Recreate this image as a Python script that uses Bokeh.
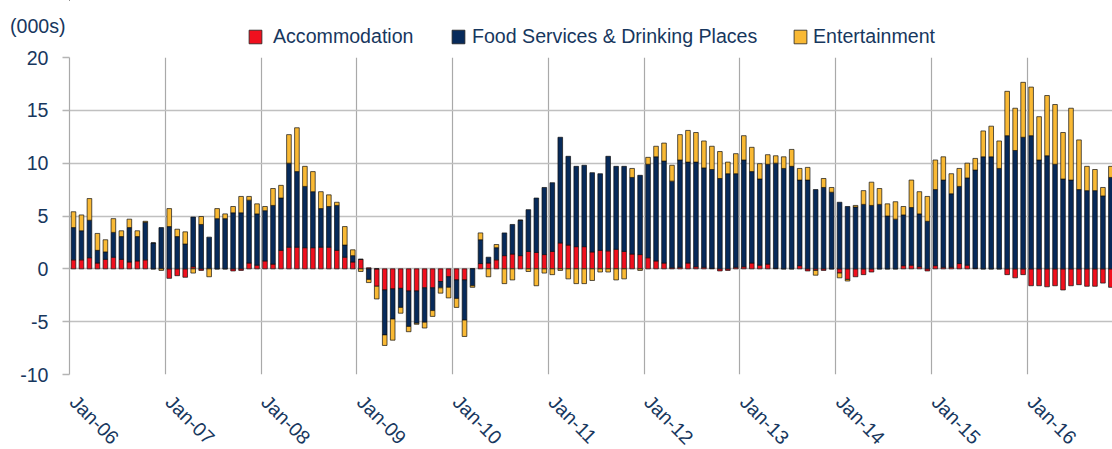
import numpy as np
from bokeh.plotting import figure
from bokeh.layouts import column
from bokeh.models import ColumnDataSource, FixedTicker, Legend, LegendItem, Range1d
from bokeh.embed import file_html
from bokeh.resources import INLINE

series_names = ["Accommodation", "Food Services & Drinking Places", "Entertainment"]

accommodation = [
    0.85, 0.85, 1.05, 0.55, 0.9, 1.1, 0.9, 0.65, 0.75, 0.85, 0, 0,
    -0.9, -0.65, -0.8, 0.2, -0.15, 0, 0, 0, -0.2, -0.15, 0.55, 0.35,
    0.75, 0.45, 1.75, 2.05, 2.05, 2.0, 2.0, 2.05, 2.05, 1.75, 1.1, 0.65,
    0.9, 0.1, -1.65, -2.0, -1.9, -1.85, -2.1, -2.1, -1.8, -1.8, -1.2, -0.75,
    -1.05, -1.05, 0, 0.5, 0.55, 0.85, 1.25, 1.4, 1.25, 1.65, 1.55, 1.35,
    1.65, 2.45, 2.25, 2.1, 2.1, 1.6, 1.75, 1.7, 1.85, 1.65, 1.4, 1.35,
    1.05, 0.75, 0.55, 0.1, 0.15, 0.55, 0.2, 0.15, 0.05, -0.2, -0.15, 0.15,
    0.2, 0.55, 0.35, 0.45, 0.05, 0, 0, 0.3, -0.2, -0.15, -0.15, 0,
    -0.4, -1.0, -0.75, -0.55, -0.3, 0, 0, 0, 0.3, 0.35, 0.2, -0.2,
    0.3, 0.15, 0.15, 0.5, 0.35, 0.05, 0, 0, 0, -0.55, -0.85, -0.55,
    -1.6, -1.6, -1.7, -1.6, -2.0, -1.6, -1.5, -1.65, -1.65, -1.35, -1.75,
]

food_services = [
    3.05, 2.75, 3.55, 1.2, 0.7, 2.35, 2.15, 3.25, 2.3, 3.55, 2.45, 3.9,
    4.0, 3.05, 2.35, 4.7, 4.2, 3.0, 4.75, 4.75, 5.3, 5.3, 5.95, 4.85,
    4.75, 5.55, 4.95, 7.95, 7.15, 5.8, 5.3, 3.65, 3.85, 4.25, 1.15, 0.6,
    0, -1.0, 0, -4.25, -2.85, -1.8, -3.35, -3.05, -3.25, -2.15, -0.6, -1.0,
    -1.75, -3.8, -1.6, 2.25, 0.55, 1.15, 2.15, 2.8, 3.35, 3.95, 5.15, 6.35,
    6.5, 10.0, 8.4, 7.6, 7.7, 7.5, 7.25, 8.95, 7.85, 8.05, 7.25, 7.5,
    8.85, 9.85, 9.65, 8.2, 10.15, 9.55, 9.9, 9.4, 9.35, 8.55, 9.0, 8.85,
    10.1, 8.65, 8.15, 9.45, 9.95, 9.5, 9.7, 8.1, 8.4, 7.5, 7.7, 7.25,
    6.3, 5.9, 5.85, 6.1, 6.0, 6.1, 5.0, 4.7, 4.8, 5.45, 5.0, 4.5,
    7.2, 8.25, 6.95, 7.3, 8.25, 9.3, 10.6, 10.6, 9.5, 12.6, 11.2, 12.45,
    12.6, 10.3, 10.7, 9.9, 8.5, 8.4, 7.5, 7.4, 7.4, 6.9, 8.65,
]

entertainment = [
    1.5, 1.5, 2.05, 1.6, 1.15, 1.3, 0.55, 0.8, 0.55, 0.1, 0, -0.15,
    1.7, 0.7, 1.15, -0.4, 0.75, -0.75, 0.95, 0.45, 0.6, 1.55, 0.35, 0.95,
    0.4, 1.6, 1.2, 2.7, 4.15, 1.9, 1.9, 1.6, 1.1, 0.3, 1.75, 0.55,
    -0.25, -0.3, -1.2, -1.0, -2.0, -0.55, -0.5, -0.1, -0.55, -0.55, -0.5, -1.0,
    -0.85, -1.55, -0.15, 0.65, -0.75, 0.3, -1.4, -1.05, 0, -0.25, -1.6, -0.4,
    -0.55, -0.15, -0.95, -1.4, -1.4, -1.1, -0.3, -0.3, -1.05, -0.95, 0.85, -0.15,
    0.65, 1.0, 1.7, 1.5, 2.4, 3.0, 2.8, 2.55, 2.2, 2.55, 1.1, 1.9,
    2.3, 2.3, 1.45, 0.9, 0.7, 1.1, 1.6, 1.1, 1.2, -0.45, 0.85, 0.45,
    -0.45, -0.15, 0.15, 1.3, 2.2, 1.5, 1.15, 1.65, 0.8, 2.6, 2.1, 2.35,
    2.8, 2.2, 1.9, 1.7, 1.4, 1.1, 2.45, 2.9, 2.6, 4.2, 4.0, 5.2,
    4.6, 4.1, 5.7, 5.65, 4.4, 6.8, 4.7, 2.3, 2.0, 0.8, 1.05,
]

tick_labels = ["Jan-06", "Jan-07", "Jan-08", "Jan-09", "Jan-10", "Jan-11",
               "Jan-12", "Jan-13", "Jan-14", "Jan-15", "Jan-16"]
y_ticks = [-10, -5, 0, 5, 10, 15, 20]
unit_label = "(000s)"

# ---- styling ----
NAVY_TEXT = "#17375e"
colors = ["#f0101e", "#072a5a", "#f9b934"]
FONT = "Liberation Sans"
W = 1112
HEADER_H = 48
FRAME_LEFT = 69

# ---- stacking (positives up, negatives down, in series order) ----
n = len(accommodation)
x = np.arange(n)
pos_base = np.zeros(n)
neg_base = np.zeros(n)
stack = []
for vals in (accommodation, food_services, entertainment):
    v = np.array(vals, dtype=float)
    bottom = np.where(v >= 0, pos_base, neg_base + v)
    top = np.where(v >= 0, pos_base + v, neg_base)
    pos_base = pos_base + np.where(v >= 0, v, 0)
    neg_base = neg_base + np.where(v < 0, v, 0)
    stack.append((bottom, top))

# ---- header (unit label + legend) ----
hdr = figure(width=W, height=HEADER_H, x_range=Range1d(0, 1), y_range=Range1d(HEADER_H, 0),
             output_backend="svg", toolbar_location=None, x_axis_type=None,
             min_border_left=FRAME_LEFT, min_border_right=0, min_border_top=0, min_border_bottom=0)
hdr.outline_line_color = None
hdr.ygrid.visible = False
# unit label shown as the single tick label of the header's left axis
hdr.yaxis.ticker = FixedTicker(ticks=[25])
hdr.yaxis.major_label_overrides = {25: unit_label}
hdr.yaxis.axis_line_color = None
hdr.yaxis.major_tick_line_color = None
hdr.yaxis.minor_tick_line_color = None
hdr.yaxis.major_tick_in = 0
hdr.yaxis.major_tick_out = 0
hdr.yaxis.major_label_standoff = 4
hdr.yaxis.major_label_text_font = FONT
hdr.yaxis.major_label_text_font_size = "19.6px"
hdr.yaxis.major_label_text_color = NAVY_TEXT

legend_pos = [(247, 10), (450, 6), (792, 5)]
for name, col, (lx, stand) in zip(series_names, colors, legend_pos):
    # legend swatch source (single off-screen, zero-height bar)
    swatch = hdr.vbar(x=[-100], bottom=[0], top=[0], width=0.01,
                      fill_color=col, line_color="#222222", line_width=0.8)
    leg = Legend(items=[LegendItem(label=name, renderers=[swatch])],
                 location=(lx - FRAME_LEFT, 0), orientation="horizontal",
                 padding=0, margin=0, spacing=0,
                 border_line_color=None, background_fill_alpha=0,
                 glyph_width=16, glyph_height=17, label_standoff=stand,
                 label_text_font=FONT, label_text_font_size="19.6px",
                 label_text_color=NAVY_TEXT)
    hdr.add_layout(leg, "center")

# ---- main chart ----
p = figure(frame_width=W - FRAME_LEFT, frame_height=317,
           x_range=Range1d(-0.5, 130.2), y_range=Range1d(-10, 20),
           output_backend="svg", toolbar_location=None,
           min_border_left=FRAME_LEFT, min_border_right=0,
           min_border_top=9, min_border_bottom=0)
p.outline_line_color = None

for name, col, (bottom, top) in zip(series_names, colors, stack):
    src = ColumnDataSource(dict(x=x, bottom=bottom, top=top))
    p.vbar(x="x", bottom="bottom", top="top", width=0.58, source=src,
           fill_color=col, line_color="#111111", line_width=0.7)

# grids
p.xgrid.ticker = FixedTicker(ticks=[-0.5 + 12 * k for k in range(len(tick_labels))])
p.xgrid.grid_line_color = "#a9a9a9"
p.xgrid.grid_line_width = 1.2
p.ygrid.ticker = FixedTicker(ticks=y_ticks)
p.ygrid.grid_line_color = "#c0c0c0"
p.ygrid.grid_line_width = 1.6

# x axis
p.xaxis.ticker = FixedTicker(ticks=[12 * k for k in range(len(tick_labels))])
p.xaxis.major_label_overrides = {12 * k: lab for k, lab in enumerate(tick_labels)}
p.xaxis.major_label_orientation = -np.pi / 4
p.xaxis.axis_line_color = None
p.xaxis.major_tick_line_color = None
p.xaxis.minor_tick_line_color = None
p.xaxis.major_tick_in = 0
p.xaxis.major_tick_out = 0
p.xaxis.major_label_standoff = 24
p.xaxis.major_label_text_font = FONT
p.xaxis.major_label_text_font_size = "19.5px"
p.xaxis.major_label_text_color = NAVY_TEXT

# y axis
p.yaxis.ticker = FixedTicker(ticks=y_ticks)
p.yaxis.major_label_overrides = {t: str(t) for t in y_ticks}
p.yaxis.axis_line_color = "#a9a9a9"
p.yaxis.axis_line_width = 1.2
p.yaxis.major_tick_line_color = "#b5b5b5"
p.yaxis.major_tick_line_width = 1.5
p.yaxis.minor_tick_line_color = None
p.yaxis.major_tick_in = 0
p.yaxis.major_tick_out = 7
p.yaxis.major_label_standoff = 14
p.yaxis.major_label_text_font = FONT
p.yaxis.major_label_text_font_size = "19.6px"
p.yaxis.major_label_text_color = NAVY_TEXT

layout = column(hdr, p, spacing=0)
open("out.html", "w").write(file_html(layout, INLINE))
